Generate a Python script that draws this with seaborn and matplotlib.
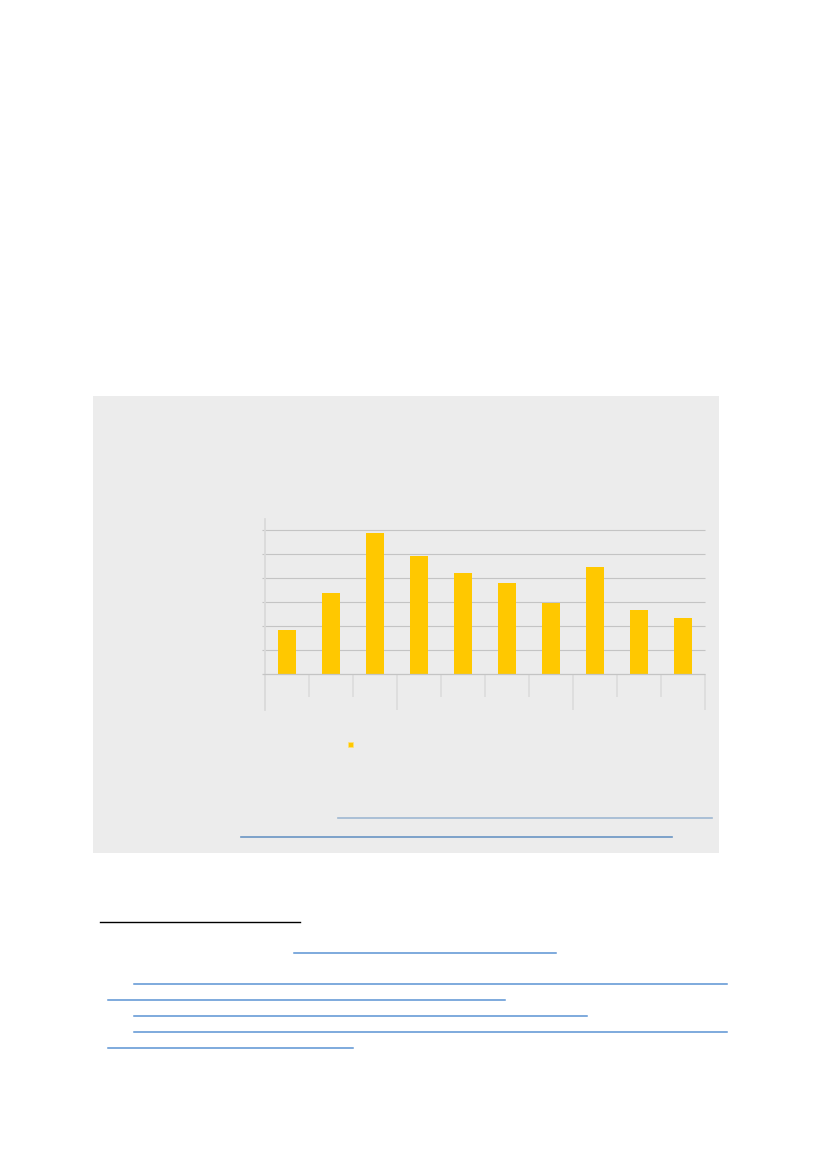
import numpy as np
import pandas as pd
import seaborn as sns
import matplotlib.pyplot as plt
from matplotlib.patches import Rectangle
from matplotlib.lines import Line2D

# data (no labels are visible in the reference)
categories = ['C1', 'C2', 'C3', 'C4', 'C5', 'C6', 'C7', 'C8', 'C9', 'C10']
groups = ['G1', 'G1', 'G1', 'G2', 'G2', 'G2', 'G2', 'G3', 'G3', 'G3']
values = [18.2, 33.8, 58.6, 49.3, 42.1, 37.9, 29.7, 44.6, 26.7, 23.5]
grid_levels = [10, 20, 30, 40, 50, 60]

df = pd.DataFrame({'category': categories, 'group': groups, 'value': values})

W, H = 827, 1169
fig = plt.figure(figsize=(W / 100, H / 100), dpi=100)
fig.patch.set_facecolor('white')


def fx(x):
    return x / W


def fy(y):
    return 1 - y / H


# grey panel behind the chart
fig.patches.append(Rectangle((fx(93), fy(853)), fx(719) - fx(93), fy(396) - fy(853),
                             transform=fig.transFigure, facecolor='#ececec',
                             edgecolor='none', zorder=-5))

# axes: baseline at y=674px, 10 units = 24px
y_top, y_bot = 519, 710
ax = fig.add_axes([fx(264.7), fy(y_bot), fx(705) - fx(264.7), fy(y_top) - fy(y_bot)])
ax.set_facecolor('none')
ax.set_zorder(1)

sns.barplot(data=df, x='category', y='value', color='#ffc800', width=0.4,
            saturation=1, ax=ax, zorder=3)

n = len(categories)
ax.set_xlim(-0.5, n - 0.5)
ax.set_ylim(-(y_bot - 674) / 2.4, (674 - y_top) / 2.4)

ax.hlines(grid_levels, -0.5 - 0.05, n - 0.5, color='#c4c4c4', lw=0.8, zorder=1,
          clip_on=False)
ax.hlines(0, -0.5 - 0.05, n - 0.5, color='#c4c4c4', lw=0.9, zorder=4, clip_on=False)

# category separators: long ticks between groups, short ticks inside
bounds = np.arange(1, n + 1) - 0.5
group_ends = set(np.cumsum(df.groupby('group', sort=False).size().values) - 0.5)
for b in bounds:
    low = -(y_bot - 674) / 2.4 if b in group_ends else -(697 - 674) / 2.4
    ax.vlines(b, low, 0, color='#dadada', lw=1.1, zorder=1, clip_on=False)

for s in ['top', 'right', 'bottom']:
    ax.spines[s].set_visible(False)
ax.spines['left'].set_color('#dadada')
ax.spines['left'].set_linewidth(1.3)
ax.set_xticks([])
ax.set_yticks([])
ax.set_xlabel('')
ax.set_ylabel('')

# legend marker
fig.patches.append(Rectangle((fx(348.3), fy(746.7)), fx(4.7), fx(4.7) * W / H,
                             transform=fig.transFigure, facecolor='#ffc800',
                             edgecolor='#ffe27a', lw=0.5, zorder=2))

# source link underlines inside the panel
for x0, x1, y, c in [(338, 712, 818, '#9fb8d2'), (241, 672, 837, '#6a95c4')]:
    fig.add_artist(Line2D([fx(x0), fx(x1)], [fy(y), fy(y)], color=c, lw=1.2,
                          transform=fig.transFigure))

# footnote separator and link underlines below the panel
fig.add_artist(Line2D([fx(100), fx(300)], [fy(922), fy(922)], color='black', lw=1.0,
                      transform=fig.transFigure))
for x0, x1, y in [(294, 556, 953), (134, 727, 984), (108, 505, 1000),
                  (134, 587, 1016), (134, 727, 1032), (108, 353, 1048)]:
    fig.add_artist(Line2D([fx(x0), fx(x1)], [fy(y), fy(y)], color='#5b93d3', lw=1.1,
                          transform=fig.transFigure))

fig.savefig('out.png', dpi=100, facecolor='white')
